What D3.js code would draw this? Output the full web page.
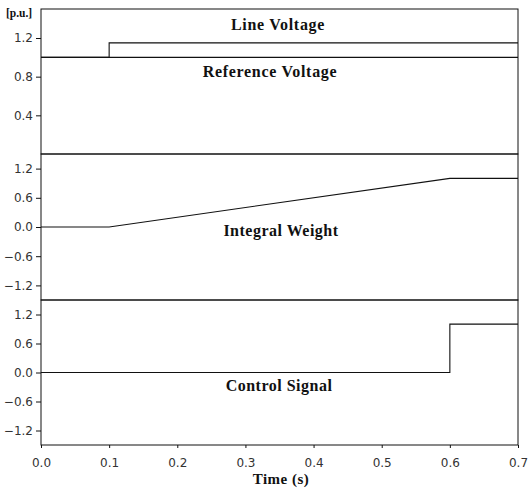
<!DOCTYPE html>
<html><head><meta charset="utf-8">
<script src="https://cdn.jsdelivr.net/npm/d3@7/dist/d3.min.js"></script>
<style>
body{margin:0;background:#fff;}
</style></head>
<body><svg id="c" width="528" height="492"></svg>
<script>
// ---- data ----
const xTicks = [0.0, 0.1, 0.2, 0.3, 0.4, 0.5, 0.6, 0.7];
const p1Ticks = [0.4, 0.8, 1.2];
const p2Ticks = [-1.2, -0.6, 0.0, 0.6, 1.2];
const p3Ticks = [-1.2, -0.6, 0.0, 0.6, 1.2];

const lineVoltageT = [0.0, 0.1, 0.1, 0.7];
const lineVoltageV = [1.0, 1.0, 1.15, 1.15];
const refVoltageT = [0.0, 0.7];
const refVoltageV = [1.0, 1.0];
const integralT = [0.0, 0.1, 0.6, 0.7];
const integralV = [0.0, 0.0, 1.0, 1.0];
const controlT = [0.0, 0.6, 0.6, 0.7];
const controlV = [0.0, 0.0, 1.0, 1.0];

const labels = ["Line Voltage", "Reference Voltage", "Integral Weight", "Control Signal"];

// ---- layout ----
const svg = d3.select("#c");
const L = 41, R = 518;
const x = d3.scaleLinear().domain([0, 0.7]).range([L, R]);

const panels = [
  {top: 9, bottom: 154, domain: [0, 1.5], ticks: p1Ticks},
  {top: 154, bottom: 300, domain: [-1.5, 1.5], ticks: p2Ticks},
  {top: 300, bottom: 445, domain: [-1.5, 1.5], ticks: p3Ticks}
];
panels.forEach(p => { p.y = d3.scaleLinear().domain(p.domain).range([p.bottom, p.top]); });

const fmt = d3.format(".1f");
const tickColor = "#333";
const sans = "'DejaVu Sans',sans-serif";

// panel frames
panels.forEach(p => {
  svg.append("rect").attr("x", L).attr("y", p.top).attr("width", R - L).attr("height", p.bottom - p.top)
    .attr("fill", "none").attr("stroke", "#111").attr("stroke-width", 1);
  const ax = svg.append("g").attr("transform", `translate(${L},0)`)
    .call(d3.axisLeft(p.y).tickValues(p.ticks).tickFormat(fmt).tickSize(5).tickPadding(3));
  ax.attr("font-family", sans).attr("font-size", 12);
  ax.select(".domain").remove();
  ax.selectAll("line").attr("stroke", "#111");
  ax.selectAll("text").attr("fill", tickColor);
});

// x axis
const xa = svg.append("g").attr("transform", `translate(0,445)`)
  .call(d3.axisBottom(x).tickValues(xTicks).tickFormat(fmt).tickSize(3).tickPadding(10));
xa.attr("font-family", sans).attr("font-size", 12);
xa.select(".domain").remove();
xa.selectAll("line").attr("stroke", "#111");
xa.selectAll("text").attr("fill", tickColor);

// series
const drawLine = (T, V, p) => {
  const pts = T.map((t, i) => [t, V[i]]);
  svg.append("path").datum(pts)
    .attr("d", d3.line().x(d => x(d[0])).y(d => p.y(d[1])))
    .attr("fill", "none").attr("stroke", "#111").attr("stroke-width", 1.1);
};
drawLine(refVoltageT, refVoltageV, panels[0]);
drawLine(lineVoltageT, lineVoltageV, panels[0]);
drawLine(integralT, integralV, panels[1]);
drawLine(controlT, controlV, panels[2]);

// labels
const serif = "'Liberation Serif','Times New Roman',serif";
const lab = (txt, cx, by, size, ls) => svg.append("text").text(txt)
  .attr("x", cx).attr("y", by).attr("text-anchor", "middle")
  .attr("font-family", serif).attr("font-weight", "bold").attr("font-size", size)
  .attr("letter-spacing", ls).attr("fill", "#111");

lab(labels[0], 278, 30, 16, 0.7);
lab(labels[1], 270, 77, 16, 0.7);
lab(labels[2], 281, 236, 16, 0.5);
lab(labels[3], 279, 391, 16, 0.5);
lab("Time (s)", 281, 484, 15, 0.5);

svg.append("text").text("[p.u.]").attr("x", 6).attr("y", 17)
  .attr("font-family", serif).attr("font-weight", "bold").attr("font-size", 11.5)
  .attr("fill", "#111");
</script></body></html>
